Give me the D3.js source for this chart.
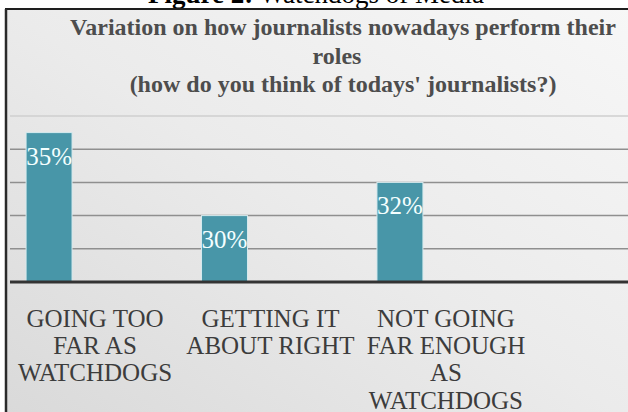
<!DOCTYPE html>
<html>
<meta charset="utf-8">
<style>
body {
  margin: 0;
  background: #fff;
}
svg {
  display: block;
  font-family: "Liberation Serif", "Times New Roman", serif;
}
.grid line {
  stroke: #8f8f8f;
  stroke-width: 1.5px;
}
.bar {
  fill: #4896a8;
}
.value {
  fill: #f4ffff;
  font-size: 25px;
  text-anchor: middle;
}
.cat {
  fill: #3c3c3c;
  font-size: 25px;
  text-anchor: middle;
}
.title {
  fill: #4d4d4d;
  font-size: 24px;
  font-weight: bold;
  text-anchor: middle;
}
</style>
<body>
<svg width="628" height="412"></svg>
<script src="https://cdn.jsdelivr.net/npm/d3@7"></script>
<script>

// data
var categories = ["GOING TOO FAR AS WATCHDOGS", "GETTING IT ABOUT RIGHT", "NOT GOING FAR ENOUGH AS WATCHDOGS"];
var values = [35, 30, 32];
var labelLines = [["GOING TOO", "FAR AS", "WATCHDOGS"],
                  ["GETTING IT", "ABOUT RIGHT"],
                  ["NOT GOING", "FAR ENOUGH", "AS", "WATCHDOGS"]];
var gridTicks = [28, 30, 32, 34, 36];
var titleLines = ["Variation on how journalists nowadays perform their", "roles", "(how do you think of  todays' journalists?)"];

var svg = d3.select("svg"),
    width = +svg.attr("width"),
    height = +svg.attr("height");

var defs = svg.append("defs");
var grad = defs.append("linearGradient")
    .attr("id", "bg")
    .attr("x1", "100%").attr("y1", "0%")
    .attr("x2", "0%").attr("y2", "100%");
grad.append("stop").attr("offset", "0%").attr("stop-color", "#f7f7f7");
grad.append("stop").attr("offset", "50%").attr("stop-color", "#ebebeb");
grad.append("stop").attr("offset", "100%").attr("stop-color", "#d9d9d9");

// figure caption, mostly cut off at the top
var cap = svg.append("text")
    .attr("x", 316)
    .attr("y", 3)
    .attr("text-anchor", "middle")
    .style("font-size", "27px")
    .style("fill", "#000");
cap.append("tspan").style("font-weight", "bold").text("Figure 2:");
cap.append("tspan").text(" Watchdogs of Media");

// chart box
svg.append("rect")
    .attr("x", 6).attr("y", 9)
    .attr("width", width).attr("height", height)
    .attr("fill", "url(#bg)");
svg.append("line")
    .attr("x1", 5).attr("x2", width).attr("y1", 9).attr("y2", 9)
    .attr("stroke", "#1e1e1e").attr("stroke-width", 2);
svg.append("line")
    .attr("x1", 6).attr("x2", 6).attr("y1", 9).attr("y2", height)
    .attr("stroke", "#2a2a2a").attr("stroke-width", 2.5);

var y = d3.scaleLinear()
    .domain([26, 36])
    .range([282, 116]);

var x = d3.scaleBand()
    .domain(categories)
    .range([8, 441])
    .paddingInner(0.738)
    .paddingOuter(0.103);

// gridlines
svg.append("g")
    .attr("class", "grid")
  .selectAll("line")
  .data(gridTicks)
  .enter().append("line")
    .attr("x1", 10)
    .attr("x2", width)
    .attr("y1", function(d) { return y(d); })
    .attr("y2", function(d) { return y(d); })
    .style("stroke", function(d) { return d == 36 ? "#cfcfcf" : null; });

// bars
svg.append("g")
  .selectAll("rect")
  .data(values)
  .enter().append("rect")
    .attr("class", "bar")
    .attr("x", function(d, i) { return x(categories[i]); })
    .attr("y", function(d) { return y(d); })
    .attr("width", x.bandwidth())
    .attr("height", function(d) { return y(26) - y(d); })
    .attr("stroke", "#d6eaee")
    .attr("stroke-width", 1);

svg.append("g")
  .selectAll("text")
  .data(values)
  .enter().append("text")
    .attr("class", "value")
    .attr("x", function(d, i) { return x(categories[i]) + x.bandwidth() / 2; })
    .attr("y", function(d) { return y(d) + 32; })
    .text(function(d) { return d + "%"; });

// baseline axis
svg.append("line")
    .attr("x1", 10).attr("x2", width)
    .attr("y1", y(26)).attr("y2", y(26))
    .attr("stroke", "#333")
    .attr("stroke-width", 3);

// category labels (sit a bar-width right of the bar centres)
var cat = svg.append("g")
  .selectAll("text")
  .data(categories)
  .enter().append("text")
    .attr("class", "cat")
    .attr("transform", function(d) {
      return "translate(" + (x(d) + x.bandwidth() * 1.5) + ",327)";
    });
cat.selectAll("tspan")
  .data(function(d, i) { return labelLines[i]; })
  .enter().append("tspan")
    .attr("x", 0)
    .attr("y", function(d, i) { return i * 27.2; })
    .text(function(d) { return d; });

// title
svg.append("g")
  .selectAll("text")
  .data(titleLines)
  .enter().append("text")
    .attr("class", "title")
    .attr("x", function(d, i) { return i == 1 ? 337 : 343; })
    .attr("y", function(d, i) { return 35 + i * 28.5; })
    .text(function(d) { return d; });

</script>
</body>
</html>
